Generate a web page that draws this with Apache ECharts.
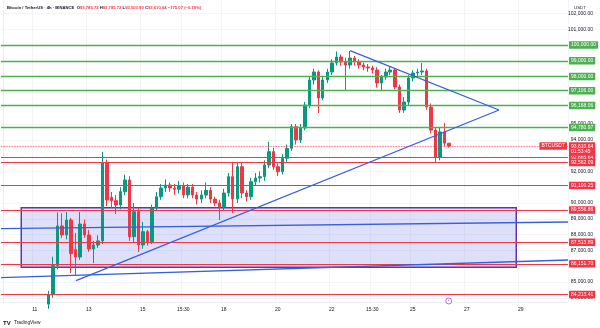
<!DOCTYPE html>
<html>
<head>
<meta charset="utf-8">
<script src="https://cdn.jsdelivr.net/npm/echarts@6/dist/echarts.min.js"></script>
<style>
  html, body { margin: 0; padding: 0; background: #ffffff; }
  #chart { width: 600px; height: 328px; }
</style>
</head>
<body>
<div id="chart"></div>
<script>
// BTC/USDT, 4h candles. One slot = one 4h bar; slot 0 is Nov 9 20:00.
const slotCount = 126;
const firstCandleSlot = 10;

// [open, close, low, high]
const candles = [
  [83600, 84200, 83300, 84450],
  [84200, 86050, 84000, 86600],
  [86050, 88550, 85800, 89400],
  [88550, 87980, 87800, 89350],
  [87980, 88920, 87700, 89430],
  [88920, 86800, 85570, 89050],
  [87050, 86580, 85400, 88100],
  [86580, 88670, 86400, 89430],
  [88670, 87980, 87800, 88950],
  [87980, 87090, 86900, 88300],
  [87090, 87340, 86200, 87600],
  [87340, 87600, 87150, 87950],
  [87600, 92530, 87400, 93230],
  [92530, 90190, 89800, 92750],
  [90360, 90150, 89700, 90700],
  [90150, 89870, 89300, 90500],
  [89870, 90715, 89600, 91000],
  [90715, 91456, 90500, 91790],
  [91456, 87867, 87600, 91700],
  [87867, 89450, 87500, 90000],
  [89450, 87342, 86900, 89700],
  [87342, 88184, 87100, 88800],
  [88184, 87551, 87300, 88300],
  [87551, 89684, 87400, 89900],
  [89684, 90400, 89500, 90700],
  [90400, 90949, 90200, 91200],
  [90949, 91139, 90700, 91500],
  [91139, 90949, 90700, 91300],
  [90949, 90870, 90500, 91200],
  [90870, 91100, 90600, 91400],
  [91100, 90506, 90300, 91300],
  [90506, 91000, 90300, 91200],
  [91000, 90506, 90300, 91200],
  [90506, 90250, 89900, 90700],
  [90250, 90500, 90000, 90800],
  [90500, 90800, 90300, 91300],
  [90800, 90250, 90000, 91000],
  [90250, 90000, 89800, 90400],
  [90000, 89750, 88920, 90200],
  [89750, 90633, 89500, 90900],
  [90633, 91665, 90400, 91900],
  [91665, 90253, 89370, 92610],
  [90253, 92298, 90000, 92600],
  [92298, 90633, 90300, 92550],
  [90633, 90400, 90100, 90800],
  [90400, 91348, 90200, 91600],
  [91348, 91582, 91100, 91900],
  [91582, 91665, 91300, 92000],
  [91665, 92405, 91400, 92700],
  [92405, 93247, 92200, 93880],
  [93247, 92298, 92100, 93500],
  [92298, 91981, 91700, 92500],
  [91981, 92829, 91800, 93100],
  [92829, 93462, 92600, 93700],
  [93462, 94829, 93300, 95000],
  [94829, 93987, 93700, 95000],
  [93987, 94747, 93800, 95000],
  [94747, 96203, 94600, 96400],
  [96203, 97785, 96000, 98000],
  [97785, 98291, 97500, 98500],
  [98291, 96646, 95696, 98400],
  [96646, 97785, 96500, 98000],
  [97785, 98291, 97600, 98500],
  [98291, 98861, 98100, 99100],
  [98861, 99241, 98700, 99588],
  [99241, 98924, 98700, 99400],
  [98924, 98734, 97150, 99200],
  [98734, 99177, 98500, 99620],
  [99177, 98924, 98700, 99300],
  [98924, 98734, 98500, 99100],
  [98734, 98608, 98400, 98900],
  [98608, 98544, 98300, 98800],
  [98544, 98418, 98200, 98700],
  [98418, 97595, 97300, 98600],
  [97595, 97975, 97150, 98100],
  [97975, 98291, 97800, 98500],
  [98291, 98418, 98100, 98650],
  [98418, 97342, 97200, 98550],
  [97342, 95886, 95700, 97500],
  [95886, 96392, 95700, 96700],
  [96392, 97911, 96200, 98100],
  [97911, 98228, 97700, 98400],
  [98228, 98291, 98000, 98500],
  [98291, 98355, 98100, 98871],
  [98355, 96076, 95900, 98500],
  [96076, 94620, 94400, 96300],
  [94620, 92911, 92595, 94800],
  [92911, 94500, 92700, 94800],
  [94500, 93785.71, 93600, 95063],
  [93785.72, 93610.64, 93503.90, 93785.72]
];

// Time axis labels
const tickSlots  = [7, 19, 31, 40, 49, 61, 73, 82, 91, 103, 115];
const tickLabels = ['11', '13', '15', '15:30', '18', '20', '22', '15:30', '25', '27', '29'];

// Price scale labels
const priceTicks = [84000, 85000, 87000, 88000, 89000, 90000, 92000, 94000, 95000, 101000, 102000];
const priceMin = 83734;
const priceMax = 102848;

// Horizontal levels
const resistanceLevels = [100000, 99000, 98000, 97106, 96168.06, 94780.97];
const supportLevels = [92865.64, 92562.09, 91100.25, 89556.86, 87513.89, 86151.70, 84213.41];
const countdown = '01:53:45';
const symbolTag = 'BTCUSDT';

// Drawn trendlines, [slot, price]
const risingLine    = [[16.17, 85082], [110.17, 95886]];
const fallingLine   = [[77.06, 99639], [110.17, 95886]];
const channelUpper  = [[-0.5, 88373], [125.5, 88797]];
const channelLower  = [[-0.5, 85272], [125.5, 86392]];

// Range box
const rangeBox = { fromSlot: 4, toSlot: 114, high: 89703, low: 85930 };

// Event marker
const eventSlot = 99;
const eventPrice = 83800;

const UP = '#089981', DOWN = '#f23645';
const GREEN = '#4caf50', RED = '#f23645', BLUE = '#3560e0';
const FONT = 'Liberation Sans';
const fmt = v => v.toLocaleString('en-US', { minimumFractionDigits: 2, maximumFractionDigits: 2 });

const categories = Array.from({ length: slotCount }, (_, i) => String(i));
const candleData = Array.from({ length: slotCount }, (_, i) => {
  const k = i - firstCandleSlot;
  return (k >= 0 && k < candles.length) ? candles[k] : '-';
});

const last = candles[candles.length - 1];
const prevClose = candles[candles.length - 2][1];
const lastPrice = last[1];
const chg = lastPrice - prevClose;
const chgPct = chg / prevClose * 100;
const signed = x => (x < 0 ? '\u2212' : '+') + Math.abs(x).toFixed(2);

const tagLabel = (text, bg) => ({
  show: true, position: 'end', distance: 1, formatter: text,
  backgroundColor: bg, color: '#ffffff', fontSize: 5, fontFamily: FONT,
  padding: [1.5, 2, 1, 2], borderRadius: 0.5
});

const levelMarks = [];
resistanceLevels.forEach(v => levelMarks.push({
  yAxis: v, lineStyle: { color: GREEN, width: 1.3, type: 'solid' }, label: tagLabel(fmt(v), GREEN)
}));
supportLevels.forEach(v => levelMarks.push({
  yAxis: v, lineStyle: { color: RED, width: 1.2, type: 'solid' }, label: tagLabel(fmt(v), RED)
}));
// last price line with countdown
levelMarks.push({
  yAxis: lastPrice,
  lineStyle: { color: RED, width: 0.8, type: 'dotted' },
  label: Object.assign(tagLabel(fmt(lastPrice) + '\n' + countdown, RED), { lineHeight: 5.5, offset: [0, 3] })
});
// symbol tag beside the last price
levelMarks.push({
  yAxis: lastPrice,
  lineStyle: { color: 'rgba(0,0,0,0)', width: 0 },
  label: Object.assign(tagLabel(symbolTag, RED), { position: 'insideEnd', distance: 1, offset: [0, 0] })
});

const trend = (name, pts) => ({
  name, type: 'line', xAxisIndex: 1, yAxisIndex: 0, data: pts,
  symbol: 'none', silent: true, z: 5, animation: false,
  lineStyle: { color: BLUE, width: 1.3 }
});

const chart = echarts.init(document.getElementById('chart'), null, { renderer: 'canvas' });
chart.setOption({
  animation: false,
  backgroundColor: '#ffffff',
  title: [{
    left: 2, top: 1,
    text: '{n|Bitcoin / TetherUS \u00b7 4h \u00b7 BINANCE}  ' +
          '{k|O}{v|' + fmt(last[0]) + '} {k|H}{v|' + fmt(last[3]) + '} {k|L}{v|' + fmt(last[2]) +
          '} {k|C}{v|' + fmt(lastPrice) + '} {v|' + signed(chg) + ' (' + signed(chgPct) + '%)}',
    textStyle: {
      fontSize: 4.2, fontFamily: FONT,
      rich: {
        n: { fontSize: 4.2, color: '#131722', fontFamily: FONT },
        k: { fontSize: 4.2, color: '#131722', fontFamily: FONT },
        v: { fontSize: 4.2, color: RED, fontFamily: FONT }
      }
    }
  }, {
    left: 569, top: 1,
    text: 'USDT',
    textStyle: { fontSize: 4.4, color: '#131722', fontFamily: FONT, fontWeight: 'normal' }
  }],
  graphic: [{
    type: 'text', left: 3, top: 317,
    style: {
      text: '{l|TV} {t|TradingView}',
      rich: {
        l: { fontSize: 6, fontWeight: 'bold', fill: '#131722', fontFamily: FONT },
        t: { fontSize: 4.8, fill: '#131722', fontFamily: FONT }
      }
    }
  }],
  grid: { left: 1, right: 32, top: 0, bottom: 26, containLabel: false },
  xAxis: [{
    type: 'category', data: categories, boundaryGap: true,
    axisLine: { show: true, lineStyle: { color: '#eceef3', width: 1 } },
    axisTick: { show: false },
    axisLabel: {
      interval: i => tickSlots.includes(i),
      formatter: (val) => { const k = tickSlots.indexOf(Number(val)); return k >= 0 ? tickLabels[k] : ''; },
      fontSize: 5, color: '#131722', fontFamily: FONT, margin: 5
    },
    splitLine: { show: true, interval: i => tickSlots.includes(i), lineStyle: { color: '#f3f4f7', width: 1 } }
  }, {
    type: 'value', min: -0.5, max: slotCount - 0.5, show: false
  }],
  yAxis: [{
    type: 'value', position: 'right', min: priceMin, max: priceMax, scale: true,
    axisLine: { show: true, lineStyle: { color: '#eceef3', width: 1 } },
    axisTick: { show: false, customValues: priceTicks },
    axisLabel: {
      customValues: priceTicks,
      formatter: v => fmt(v),
      fontSize: 5, color: '#131722', fontFamily: FONT, align: 'right', margin: 25
    },
    splitLine: { show: true, lineStyle: { color: '#f3f4f7', width: 1 } }
  }],
  series: [{
    name: 'range', type: 'line', xAxisIndex: 1, yAxisIndex: 0,
    data: [[rangeBox.fromSlot, rangeBox.high], [rangeBox.toSlot, rangeBox.high]],
    symbol: 'none', lineStyle: { opacity: 0 }, silent: true, z: 1,
    markArea: {
      silent: true,
      itemStyle: { color: 'rgba(90,100,230,0.2)', borderColor: '#5e35b1', borderWidth: 1.5 },
      data: [[{ coord: [rangeBox.fromSlot, rangeBox.high] }, { coord: [rangeBox.toSlot, rangeBox.low] }]]
    }
  }, {
    name: 'BTCUSDT', type: 'candlestick', data: candleData, z: 3,
    barWidth: 3,
    itemStyle: { color: UP, color0: DOWN, borderColor: UP, borderColor0: DOWN, borderWidth: 1 },
    markLine: {
      silent: true, symbol: ['none', 'none'], animation: false, z: 4,
      data: levelMarks
    }
  },
  trend('rising', risingLine),
  trend('falling', fallingLine),
  trend('channelUpper', channelUpper),
  trend('channelLower', channelLower),
  {
    name: 'event', type: 'scatter', data: [[eventSlot, eventPrice]],
    symbol: 'circle', symbolSize: 6, z: 6, silent: true,
    itemStyle: { color: '#ffffff', borderColor: '#b04fc2', borderWidth: 1 },
    label: { show: true, position: 'inside', formatter: '\u2022', color: '#b04fc2', fontSize: 5 }
  }]
});
</script>
</body>
</html>
